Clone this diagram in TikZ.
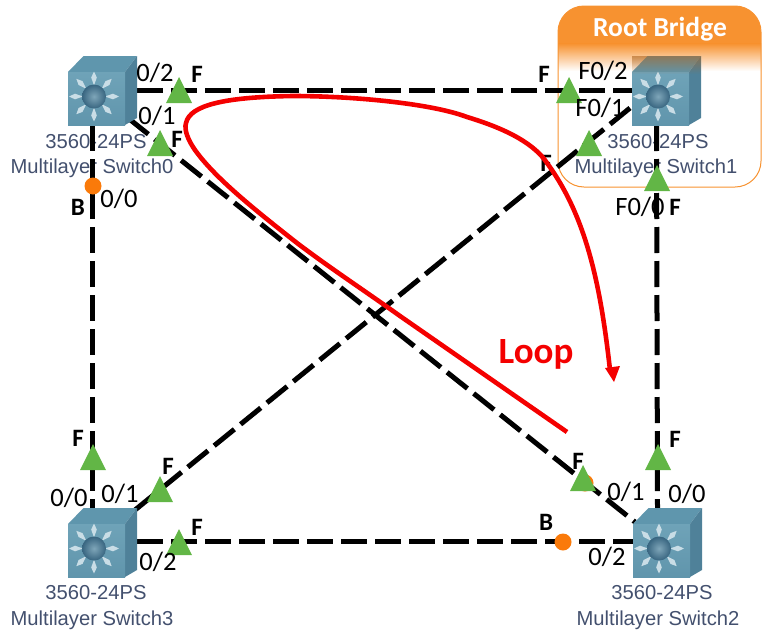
\documentclass[tikz,border=0pt]{standalone}
\usepackage{fontspec}
\setmainfont{Carlito}
\newfontfamily\swfont{Liberation Sans}
\usetikzlibrary{fadings}
\definecolor{sgreen}{HTML}{62B646}
\definecolor{sorange}{HTML}{FA7A0A}
\definecolor{rootor}{HTML}{F79230}
\definecolor{swtext}{HTML}{43506E}
\definecolor{cfront}{HTML}{6FA3B8}
\definecolor{cfrontb}{HTML}{6095AC}
\definecolor{ctop}{HTML}{5F96AD}
\definecolor{cside}{HTML}{4F8199}
\definecolor{cstar}{HTML}{C9DDE6}
\definecolor{cballa}{HTML}{7FA6B9}
\definecolor{cballb}{HTML}{386580}
\definecolor{lred}{HTML}{F40000}
\tikzset{
 x=1pt,y=-1pt,
 swbox/.style={minimum size=69pt,inner sep=0pt,outer sep=0pt},
 cable/.style={line width=5pt,black,dash pattern=on 26pt off 8pt},
 swlab/.style={font=\swfont\fontsize{20.2}{22}\selectfont,text=swtext,inner sep=0pt},
 portlab/.style={font=\fontsize{26.5}{28}\selectfont,inner sep=0pt},
 statelab/.style={font=\bfseries\fontsize{25}{27}\selectfont,inner sep=0pt},
 blockdot/.style={circle,fill=sorange,minimum size=17pt,inner sep=0pt},
 switchcube/.pic={
  \fill[ctop] (-34.5,-18.5)--(-19,-34.5)--(34.5,-34.5)--(22.5,-18.5)--cycle;
  \fill[cside] (22.5,-18.5)--(34.5,-34.5)--(34.5,27.5)--(22.5,34.5)--cycle;
  \shade[top color=cfront,bottom color=cfrontb] (-34.5,-18.5) rectangle (22.5,34.5);
  \foreach \a in {0,45,...,315}{
   \fill[cstar,shift={(-8.5,6)},rotate=\a] (11,0)--(19,-2.8)--(25,0)--(19,2.8)--cycle;
  }
  \shade[inner color=cballa,outer color=cballb] (-8.5,6) circle (12);
 },
 fwd/.pic={\fill[sgreen] (0,0)--(13,26)--(-13,26)--cycle;},
}
\begin{document}
\begin{tikzpicture}
\useasboundingbox (0,0) rectangle (768,640);
% root bridge panel
\begin{scope}
\clip[rounded corners=26pt] (558,6) rectangle (761,187);
\fill[rootor] (558,6) rectangle (761,44);
\shade[top color=rootor,bottom color=white] (558,43.5) rectangle (761,71);
\end{scope}
\node[draw=rootor,line width=1pt,rounded corners=26pt,minimum width=203pt,minimum height=181pt,inner sep=0pt] (rootbox) at (659.5,96.5) {};
\node[font=\bfseries\fontsize{27.5}{29}\selectfont,text=white,inner sep=0pt] (roottxt) at (660,29) {Root Bridge};
% switch anchors
\node[swbox] (sw0) at (102.5,90.5) {};
\node[swbox] (sw1) at (666.5,90.5) {};
\node[swbox] (sw2) at (667.5,542.5) {};
\node[swbox] (sw3) at (102.5,542.5) {};
% switch captions
\node[swlab] (m0a) at (96,142) {3560-24PS};
\node[swlab] (m0b) at (92,168) {Multilayer Switch0};
\node[swlab] (m1a) at (658,142) {3560-24PS};
\node[swlab] (m1b) at (656,168) {Multilayer Switch1};
\node[swlab] (m2a) at (662,593) {3560-24PS};
\node[swlab] (m2b) at (658,620) {Multilayer Switch2};
\node[swlab] (m3a) at (96,593) {3560-24PS};
\node[swlab] (m3b) at (92,620) {Multilayer Switch3};
% cables
\draw[cable] (sw0.east) -- (sw1.west);
\draw[cable] ([xshift=-10pt]sw0.south) -- ([xshift=-10pt]sw3.north);
\draw[cable] ([xshift=-10pt]sw1.south) -- ([xshift=-10pt]sw2.north);
\draw[cable] ([yshift=1.5pt]sw3.east) -- ([yshift=1.5pt]sw2.west);
\draw[cable] ([xshift=-9pt,yshift=7pt]sw0.south east) -- ([xshift=2pt,yshift=-14pt]sw2.north west);
\draw[cable] ([xshift=-2pt,yshift=-2pt]sw3.north east) -- ([xshift=-2pt,yshift=17pt]sw1.south west);
% cubes
\pic at (sw0.center) {switchcube};
\pic at (sw1.center) {switchcube};
\pic at (sw2.center) {switchcube};
\pic at (sw3.center) {switchcube};
\fill[rootor!70!black,opacity=.6,path fading=south] (632,56) rectangle (701,74);
% blocking dots
\node[blockdot] (b0) at (93,186) {};
\node[blockdot] (b2) at (563,542) {};
\node[blockdot] (b1) at (585,483) {};
% forwarding triangles
\pic at (179,77) {fwd};
\pic at (160,130) {fwd};
\pic at (569,77) {fwd};
\pic at (589,130) {fwd};
\pic at (657,165) {fwd};
\pic at (658,444) {fwd};
\pic at (583,465) {fwd};
\pic at (93,444) {fwd};
\pic at (160,476) {fwd};
\pic at (179,529) {fwd};
% port labels
\node[portlab] (p1) at (155,73) {0/2};
\node[portlab] (p2) at (157,116) {0/1};
\node[portlab] (p3) at (119,199) {0/0};
\node[portlab] (p4) at (603,71) {F0/2};
\node[portlab] (p5) at (600,108) {F0/1};
\node[portlab] (p6) at (640,207) {F0/0};
\node[portlab] (p7) at (626,492) {0/1};
\node[portlab] (p8) at (687,494) {0/0};
\node[portlab] (p9) at (607,557) {0/2};
\node[portlab] (p10) at (69,498) {0/0};
\node[portlab] (p11) at (120,494) {0/1};
\node[portlab] (p12) at (158,562) {0/2};
% state labels
\node[statelab] (s1) at (197,74) {F};
\node[statelab] (s2) at (177,139) {F};
\node[statelab] (s3) at (78,207) {B};
\node[statelab] (s4) at (544,74) {F};
\node[statelab] (s5) at (546,163) {F};
\node[statelab] (s6) at (675,207) {F};
\node[statelab] (s7) at (675,439) {F};
\node[statelab] (s8) at (578,461) {F};
\node[statelab] (s9) at (546,522) {B};
\node[statelab] (s10) at (78,438) {F};
\node[statelab] (s11) at (168,466) {F};
\node[statelab] (s12) at (197,527) {F};
% loop
\node[font=\bfseries\fontsize{37}{39}\selectfont,text=lred,inner sep=0pt] (looptxt) at (536,354) {Loop};
\draw[lred,line width=4.6pt] (567,432) -- (400,316)
  .. controls (365,291) and (330,268) .. (297,243)
  .. controls (255,210) and (215,178) .. (195,150)
  .. controls (188,140) and (184,130) .. (186,123)
  .. controls (190,105) and (225,97) .. (293,96)
  .. controls (350,96) and (430,103) .. (467,117)
  .. controls (510,130) and (535,145) .. (547,163)
  .. controls (585,215) and (600,280) .. (610,370);
\fill[lred] (614,382)--(605,368)--(620,366)--cycle;
\end{tikzpicture}
\end{document}
